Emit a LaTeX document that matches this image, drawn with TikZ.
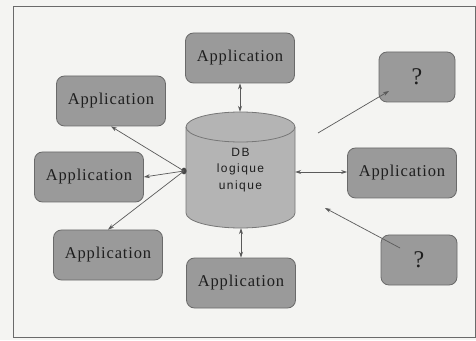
\documentclass[tikz,border=0pt]{standalone}
\usepackage{fontspec}
\setmainfont{Liberation Serif}
\newfontfamily\appfont[LetterSpace=5]{Liberation Serif}
\newfontfamily\dbfont[LetterSpace=12]{Liberation Sans}
\usetikzlibrary{arrows.meta}
\definecolor{bgc}{HTML}{F4F4F2}
\definecolor{boxfill}{HTML}{9A9A9A}
\definecolor{boxline}{HTML}{6A6A6A}
\definecolor{cylfill}{HTML}{B4B4B4}
\definecolor{cylline}{HTML}{777777}
\definecolor{linkc}{HTML}{5A5A5A}
\definecolor{txtc}{HTML}{1E1E1E}
\tikzset{
  appbox/.style={draw=boxline, fill=boxfill, line width=0.8pt, rounded corners=8pt,
    minimum width=109pt, minimum height=50pt, inner sep=0pt,
    font=\appfont\fontsize{16.5}{18}\selectfont, text=txtc},
  qbox/.style={appbox, minimum width=76pt, font=\appfont\fontsize{24}{26}\selectfont},
  link/.style={draw=linkc, line width=0.7pt, -{Stealth[length=6pt,width=4pt]}},
  blink/.style={link, {Stealth[length=6pt,width=4pt]}-{Stealth[length=6pt,width=4pt]}},
}
\begin{document}
\begin{tikzpicture}[x=1pt,y=1pt]
\useasboundingbox (0,0) rectangle (476,340);
\fill[bgc] (0,0) rectangle (476,340);
\draw[draw=boxline, line width=1pt] (13,3) rectangle (475,333);

% applications
\node[appbox] (top) at (240,282) {Application};
\node[appbox] (lt) at (111,239) {Application};
\node[appbox] (lm) at (89,163) {Application};
\node[appbox] (lb) at (108,85) {Application};
\node[appbox] (bot) at (241,57) {Application};
\node[appbox] (rt) at (402,167) {Application};
\node[qbox] (tr) at (417,263) {?};
\node[qbox] (br) at (419,80) {?};

% database cylinder
\fill[cylfill, draw=cylline, line width=0.8pt]
  (186,213) -- (186,127) arc[start angle=180, end angle=360, x radius=54.5pt, y radius=15pt]
  -- (295,213) arc[start angle=0, end angle=180, x radius=54.5pt, y radius=15pt] -- cycle;
\draw[cylline, line width=0.8pt] (186,213) arc[start angle=180, end angle=360, x radius=54.5pt, y radius=15pt];
\node[minimum width=109pt, minimum height=116pt, inner sep=0pt, align=center,
  font=\dbfont\fontsize{12}{16.5}\selectfont, text=txtc] (db) at (240.5,170) {DB\\logique\\unique};

% connectors
\coordinate (hub) at (184,169);
\fill[linkc!80!black] (hub) ellipse[x radius=2.6pt, y radius=3.4pt];
\draw[blink] (top.south) -- (db.north -| top.south);
\draw[blink] (db.south -| bot.north) -- (bot.north);
\draw[blink] (db.east |- 0,168) -- (rt.west |- 0,168);
\draw[link] (hub) -- (lt.south);
\draw[link] (hub) -- (lm.east);
\draw[link] (hub) -- (lb.north);
\coordinate (trfrom) at (318,207);
\coordinate (trtip) at ([shift={(-28,-14)}]tr.center);
\draw[link] (trfrom) -- (trtip);
\coordinate (brfrom) at ([shift={(-19,12)}]br.center);
\coordinate (brtip) at (325,132);
\draw[link] (brfrom) -- (brtip);
\end{tikzpicture}
\end{document}
